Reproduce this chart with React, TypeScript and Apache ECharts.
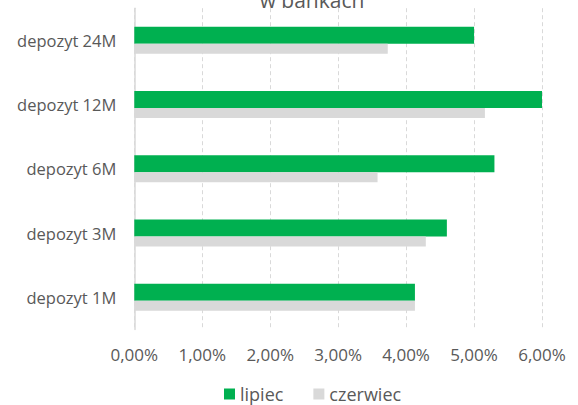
import React, { useEffect, useRef } from "react";
import * as echarts from "echarts";

// Deposit rate categories, bottom to top
const categories = ["depozyt 1M", "depozyt 3M", "depozyt 6M", "depozyt 12M", "depozyt 24M"];
// Average rates in percent
const lipiec = [4.13, 4.6, 5.3, 6.02, 5.0];
const czerwiec = [4.13, 4.29, 3.58, 5.16, 3.73];
const xTicks = [0, 1, 2, 3, 4, 5, 6];

const FONT = "Open Sans";
const LABEL = "#595959";

const fmtPct = (v: number) => v.toFixed(2).replace(".", ",") + "%";

export default function App() {
  const ref = useRef<HTMLDivElement>(null);

  useEffect(() => {
    if (!ref.current) return;
    const chart = echarts.init(ref.current, undefined, { renderer: "svg" });
    chart.setOption({
      animation: false,
      backgroundColor: "#ffffff",
      textStyle: { fontFamily: FONT },
      graphic: [
        {
          type: "text",
          x: 312,
          y: 10,
          style: {
            text: "w bankach",
            font: `21px "${FONT}"`,
            fill: LABEL,
            textAlign: "center",
            textVerticalAlign: "bottom",
          },
        },
      ],
      grid: { left: 134.3, right: 36, top: 8.2, bottom: 75.6, containLabel: false },
      legend: {
        left: 219,
        top: 380,
        itemWidth: 11,
        itemHeight: 11,
        itemGap: 30,
        icon: "rect",
        textStyle: { fontFamily: FONT, fontSize: 18, color: LABEL, lineHeight: 18 },
        data: ["lipiec", "czerwiec"],
      },
      xAxis: {
        type: "value",
        min: xTicks[0],
        max: xTicks[xTicks.length - 1],
        interval: 1,
        axisLine: { show: false },
        axisTick: { show: false },
        axisLabel: {
          margin: 17,
          color: LABEL,
          fontFamily: FONT,
          fontSize: 17,
          formatter: (v: number) => fmtPct(v),
        },
        splitLine: { show: true, lineStyle: { color: "#d9d9d9", type: [4, 3], width: 1 } },
      },
      yAxis: {
        type: "category",
        data: categories,
        axisLine: { show: true, lineStyle: { color: "#d9d9d9", width: 1.5 } },
        axisTick: { show: false },
        axisLabel: { margin: 18, color: LABEL, fontFamily: FONT, fontSize: 16.5 },
      },
      series: [
        {
          name: "lipiec",
          type: "bar",
          data: lipiec,
          barWidth: 17,
          barGap: "0%",
          itemStyle: { color: "#00b050" },
        },
        {
          name: "czerwiec",
          type: "bar",
          data: czerwiec,
          barWidth: 10,
          barGap: "0%",
          itemStyle: { color: "#d9d9d9" },
        },
      ],
    });
    return () => chart.dispose();
  }, []);

  return (
    <div
      ref={ref}
      style={{ position: "fixed", left: 0, top: 0, width: 578, height: 405, background: "#fff" }}
    />
  );
}
